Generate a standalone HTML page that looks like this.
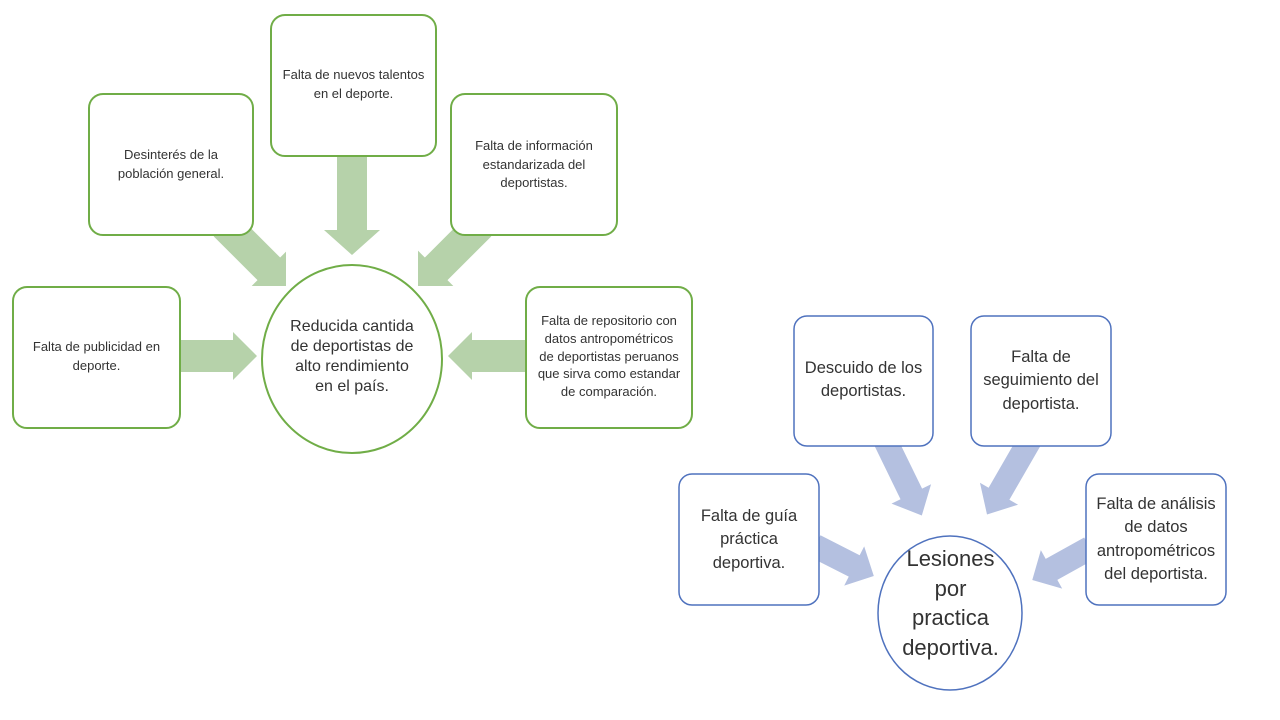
<!DOCTYPE html>
<html><head><meta charset="utf-8"><style>
body{margin:0;width:1280px;height:720px;background:#fff;overflow:hidden;position:relative;font-family:"Liberation Sans",sans-serif;}
.t{position:absolute;display:flex;align-items:flex-start;justify-content:center;text-align:center;color:#333;}
.g{font-size:13px;line-height:18.5px;}
.b{font-size:16.5px;line-height:23.3px;}
</style></head><body>
<svg width="1280" height="720" style="position:absolute;left:0;top:0">
<defs>
<clipPath id="cl"><rect x="0" y="0" width="286" height="286"/></clipPath>
<clipPath id="cr"><rect x="418" y="0" width="300" height="286"/></clipPath>
</defs>
<g fill="#b6d2aa">
<polygon transform="translate(352,150) rotate(90)" points="0,-15 80,-15 80,-28 105,0 80,28 80,15 0,15"/>
<polygon transform="translate(175,356)" points="0,-16 58,-16 58,-24 82,0 58,24 58,16 0,16"/>
<polygon transform="translate(530,356) rotate(180)" points="0,-16 58,-16 58,-24 82,0 58,24 58,16 0,16"/>
<g clip-path="url(#cl)"><polygon transform="translate(225,225) rotate(45)" points="0,-16 62,-16 62,-28 92,0 62,28 62,16 0,16"/></g>
<g clip-path="url(#cr)"><polygon transform="translate(480,225) rotate(135)" points="0,-16 62,-16 62,-28 92,0 62,28 62,16 0,16"/></g>
</g>
<g fill="#b4c0e0">
<polygon transform="translate(815,546) rotate(27)" points="0,-12 44,-12 44,-22 66,0 44,22 44,12 0,12"/>
<polygon transform="translate(1090,548) rotate(151)" points="0,-12 44,-12 44,-22 66,0 44,22 44,12 0,12"/>
<polygon transform="translate(885,440) rotate(64)" points="0,-12 60,-12 60,-22 84,0 60,22 60,12 0,12"/>
<polygon transform="translate(1030,440) rotate(120)" points="0,-12 62,-12 62,-22 86,0 62,22 62,12 0,12"/>
</g>
<g fill="#fff" stroke="#70ad47" stroke-width="2">
<rect x="271" y="15" width="165" height="141" rx="14"/>
<rect x="89" y="94" width="164" height="141" rx="14"/>
<rect x="451" y="94" width="166" height="141" rx="14"/>
<rect x="13" y="287" width="167" height="141" rx="14"/>
<rect x="526" y="287" width="166" height="141" rx="14"/>
<ellipse cx="352" cy="359" rx="90" ry="94"/>
</g>
<g fill="#fff" stroke="#4f72be" stroke-width="1.5">
<rect x="794" y="316" width="139" height="130" rx="13"/>
<rect x="971" y="316" width="140" height="130" rx="13"/>
<rect x="679" y="474" width="140" height="131" rx="13"/>
<rect x="1086" y="474" width="140" height="131" rx="13"/>
<ellipse cx="950" cy="613" rx="72" ry="77"/>
</g>
</svg>
<div class="t g" style="left:271px;top:66px;width:165px">Falta de nuevos talentos<br>en el deporte.</div>
<div class="t g" style="left:89px;top:146px;width:164px">Desinterés de la<br>población general.</div>
<div class="t g" style="left:451px;top:137px;width:166px">Falta de información<br>estandarizada del<br>deportistas.</div>
<div class="t g" style="left:13px;top:338px;width:167px">Falta de publicidad en<br>deporte.</div>
<div class="t g" style="left:526px;top:312px;width:166px;line-height:17.8px">Falta de repositorio con<br>datos antropométricos<br>de deportistas peruanos<br>que sirva como estandar<br>de comparación.</div>
<div class="t" style="left:262px;top:317px;width:180px;font-size:16px;line-height:20px">Reducida cantida<br>de deportistas de<br>alto rendimiento<br>en el país.</div>
<div class="t b" style="left:794px;top:357px;width:139px">Descuido de los<br>deportistas.</div>
<div class="t b" style="left:971px;top:346px;width:140px">Falta de<br>seguimiento del<br>deportista.</div>
<div class="t b" style="left:679px;top:505px;width:140px">Falta de guía<br>práctica<br>deportiva.</div>
<div class="t b" style="left:1086px;top:493px;width:140px">Falta de análisis<br>de datos<br>antropométricos<br>del deportista.</div>
<div class="t" style="left:878px;top:544px;width:145px;font-size:22px;line-height:29.7px">Lesiones<br>por<br>practica<br>deportiva.</div>
</body></html>
